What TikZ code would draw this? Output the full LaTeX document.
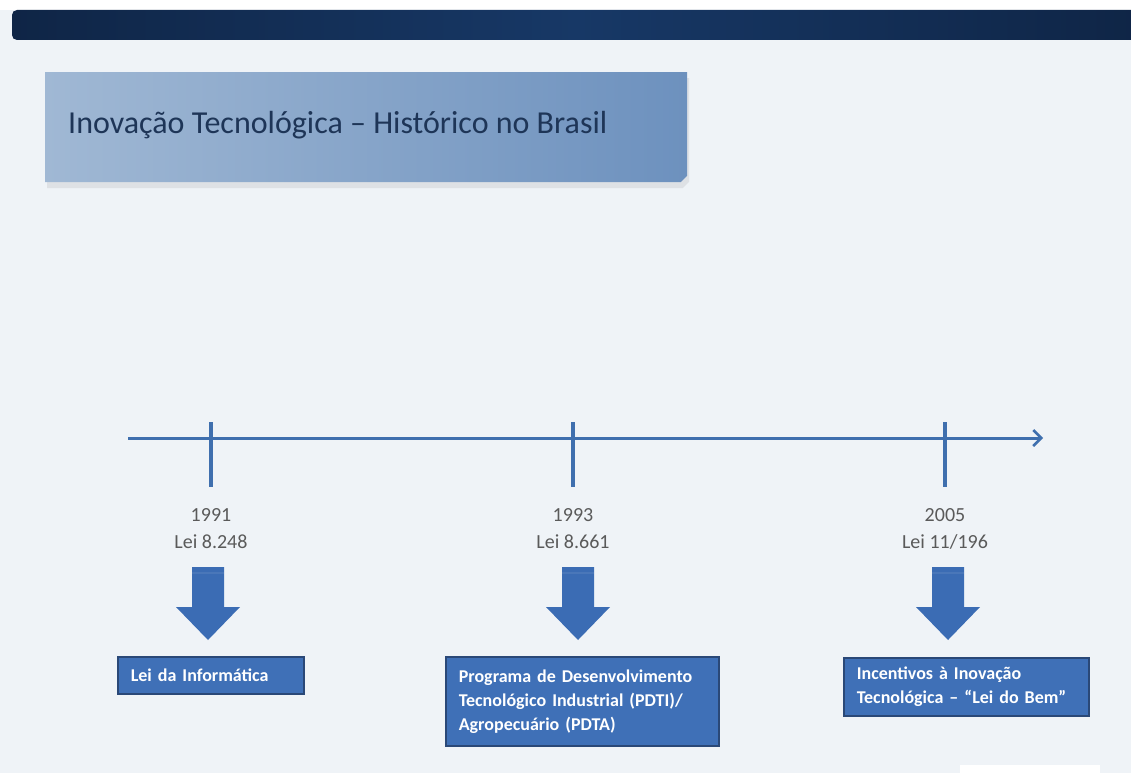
\documentclass[tikz,border=0pt]{standalone}
\usepackage{fontspec}
\setmainfont{Carlito}
\usetikzlibrary{
  arrows.meta,
  positioning,
  shapes.misc,
  shadows,
}
\definecolor{bgpage}{HTML}{EFF3F7}
\definecolor{navy}{HTML}{0F2546}
\definecolor{navymid}{HTML}{173866}
\definecolor{titleleft}{HTML}{A0B8D4}
\definecolor{titleright}{HTML}{6D91BE}
\definecolor{titletext}{HTML}{1E3557}
\definecolor{axisblue}{HTML}{3F6FAE}
\definecolor{yeargray}{HTML}{5A5A5A}
\definecolor{arrowblue}{HTML}{3B6CB4}
\definecolor{lawblue}{HTML}{3F70B7}
\definecolor{lawedge}{HTML}{2A4877}

\begin{document}
\begin{tikzpicture}[
  x=1pt, y=-1pt,
  axis/.style={draw=axisblue, line width=3pt},
  tick/.style={draw=axisblue, line width=3.5pt},
  year/.style={align=center, text=yeargray, inner sep=0pt, font=\fontsize{20}{27}\selectfont},
  drop/.pic={
    \fill[arrowblue] (-16,0) -- (16,0) -- (16,40) -- (32,40) -- (0,73) -- (-32,40) -- (-16,40) -- cycle;
    \fill[white, opacity=.08] (-16,5) rectangle (16,7);
  },
  law/.style={draw=lawedge, line width=1.6pt, fill=lawblue, text=white, align=left,
    anchor=north west, inner xsep=13pt, inner ysep=0pt, font=\bfseries\fontsize{18}{24}\selectfont}
]
\useasboundingbox (0,0) rectangle (1131,773);
\fill[bgpage] (0,0) rectangle (1131,773);
\fill[white] (0,0) rectangle (1131,10);
\fill[white] (960,765) rectangle (1100,773);
\shade[left color=navy, right color=navy, middle color=navymid, rounded corners=5pt]
  (12,10) rectangle (1140,40);

% title
\node[chamfered rectangle, chamfered rectangle corners=south east, chamfered rectangle xsep=20pt,
  left color=titleleft, right color=titleright, minimum width=642pt, minimum height=110pt,
  anchor=north west, drop shadow={shadow xshift=2pt, shadow yshift=-6pt, opacity=.15}]
  (title) at (45,72) {};
\node[anchor=base west, inner sep=0pt, text=titletext, font=\fontsize{32}{38}\selectfont]
  (caption) at (68,133) {Inovação Tecnológica – Histórico no Brasil};

% time axis
\coordinate (start) at (128,438);
\coordinate (end) at (1043,438);
\draw[axis, -{Straight Barb[length=8pt, width=16pt, line width=2.5pt]}] (start) -- (end);
\coordinate (t1) at (211,422);
\coordinate (b1) at (211,487);
\coordinate (t2) at (573,422);
\coordinate (b2) at (573,487);
\coordinate (t3) at (945,422);
\coordinate (b3) at (945,487);
\draw[tick] (t1) -- (b1);
\draw[tick] (t2) -- (b2);
\draw[tick] (t3) -- (b3);

% years
\node[year] (y1) at (211,528.5) {1991\\Lei 8.248};
\node[year] (y2) at (573,528.5) {1993\\Lei 8.661};
\node[year] (y3) at (945,528.5) {2005\\Lei 11/196};

% arrows
\pic (a1) at (208,567) {drop};
\pic (a2) at (578,567) {drop};
\pic (a3) at (948,567) {drop};

% laws
\node[law, text width=160pt, minimum height=37pt] (l1) at (117,656) {Lei da Informática};
\node[law, text width=247pt, minimum height=89pt] (l2) at (445,656)
  {Programa de Desenvolvimento\\Tecnológico Industrial (PDTI)/\\Agropecuário (PDTA)};
\node[law, text width=219pt, minimum height=58pt] (l3) at (843,657)
  {Incentivos à Inovação\\Tecnológica – “Lei do Bem”};
\end{tikzpicture}
\end{document}
